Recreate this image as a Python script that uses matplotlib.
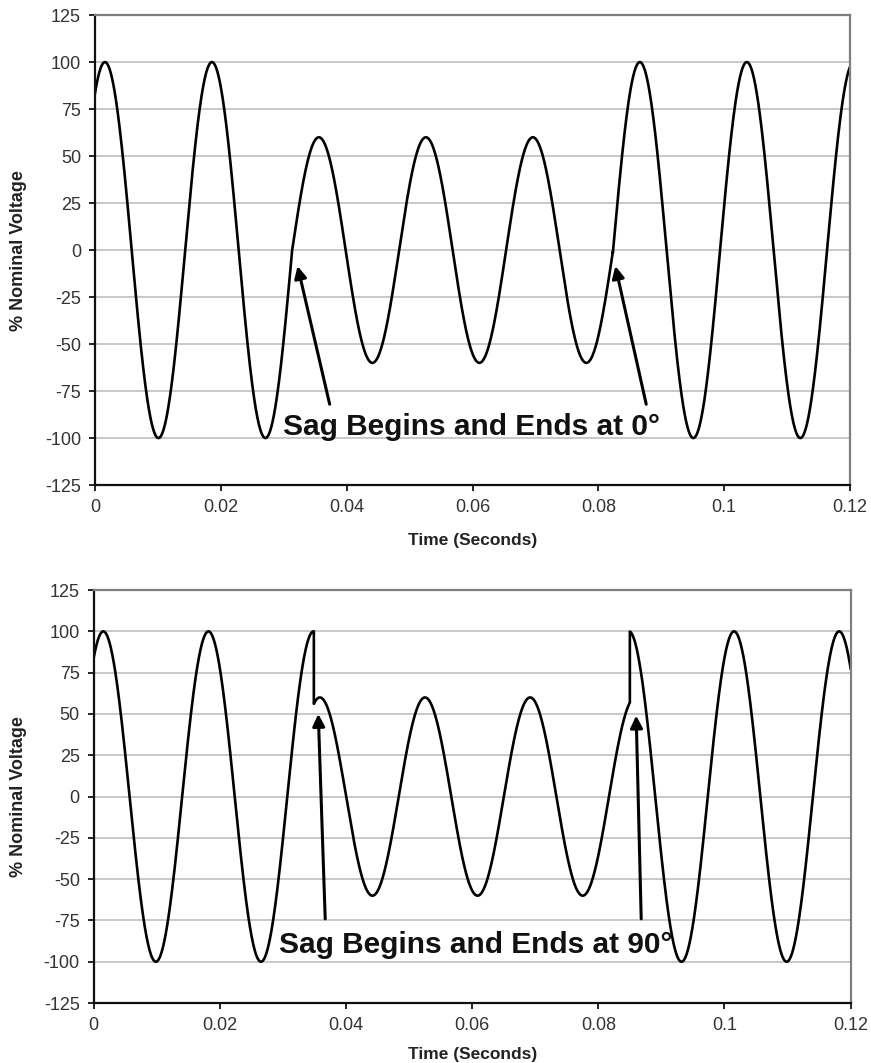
import numpy as np
import matplotlib
matplotlib.use("Agg")
from matplotlib import pyplot as plt

plt.rcParams['font.family'] = ['Liberation Sans', 'DejaVu Sans']
plt.rcParams['axes.unicode_minus'] = False

# axis ticks
time_ticks = [0, 0.02, 0.04, 0.06, 0.08, 0.1, 0.12]
time_labels = ["0", "0.02", "0.04", "0.06", "0.08", "0.1", "0.12"]
volt_ticks = [125, 100, 75, 50, 25, 0, -25, -50, -75, -100, -125]

nominal_pct = 100      # % of nominal voltage outside the sag
sag_pct = 60           # % of nominal voltage during the sag

# sag starting at the 0 degree crossing
zero_period = 0.0170       # seconds per cycle
zero_first_peak = 0.00159  # time of first positive peak
zero_sag_start = 0.0313
zero_sag_end = 0.0823
zero_sag_shift = 0.0       # phase lag of the sagged wave (s)

# sag starting at the 90 degree peak
ninety_period = 0.016667
ninety_first_peak = 0.00152
ninety_sag_start = 0.0349
ninety_sag_end = 0.0850
ninety_sag_shift = 0.0010

# arrow (tip, tail) points and label positions in data units
zero_arrows = [((0.0322, -8.5), (0.0373, -82)), ((0.0827, -8.5), (0.0876, -82))]
zero_label = (0.0299, -98.5, "Sag Begins and Ends at 0\u00b0")
ninety_arrows = [((0.0356, 50), (0.0367, -74)), ((0.0860, 49), (0.0868, -74))]
ninety_label = (0.0293, -95, "Sag Begins and Ends at 90\u00b0")


def sag_wave(period, first_peak, start, end, shift, n=24001):
    t = np.linspace(0, 0.12, n)
    # make the switching instants land exactly on samples
    t = np.sort(np.concatenate([t, [start, start, end, end]]))
    v = nominal_pct * np.cos(2 * np.pi * (t - first_peak) / period)
    v_sag = sag_pct * np.cos(2 * np.pi * (t - first_peak - shift) / period)
    inside = (t > start) & (t < end)
    v = np.where(inside, v_sag, v)
    # duplicated boundary samples carry the jump
    i_s = np.searchsorted(t, start)
    i_e = np.searchsorted(t, end)
    v[i_s + 1] = v_sag[i_s + 1]
    v[i_e] = v_sag[i_e]
    return t, v


def style_axes(ax):
    ax.set_xlim(0, 0.12)
    ax.set_ylim(-125, 125)
    ax.set_xticks(time_ticks)
    ax.set_xticklabels(time_labels)
    ax.set_yticks(volt_ticks)
    ax.tick_params(axis='both', labelsize=13, labelcolor='#333333',
                   length=4, width=1.2, direction='out', pad=6)
    ax.grid(axis='y', color='#c4c4c4', lw=1.3)
    ax.set_axisbelow(True)
    for s in ('left', 'bottom'):
        ax.spines[s].set_color('#111111')
        ax.spines[s].set_linewidth(1.6)
    for s in ('top', 'right'):
        ax.spines[s].set_color('#7f7f7f')
        ax.spines[s].set_linewidth(1.6)
    ax.set_ylabel("% Nominal Voltage", fontsize=13, fontweight='bold', color='#222222')
    ax.set_xlabel("Time (Seconds)", fontsize=12.5, fontweight='bold', color='#222222')


def annotate(ax, arrows, label):
    for tip, tail in arrows:
        ax.annotate('', xy=tip, xytext=tail,
                    arrowprops=dict(arrowstyle='-|>', color='black', lw=2.2,
                                    mutation_scale=18, shrinkA=0, shrinkB=0))
    x, y, txt = label
    ax.text(x, y, txt, fontsize=21.5, fontweight='bold', color='#111111',
            ha='left', va='baseline')


fig = plt.figure(figsize=(8.71, 10.63), dpi=100)
ax1 = fig.add_axes([0.109, 0.5437, 0.867, 0.4421])
ax2 = fig.add_axes([0.1076, 0.0564, 0.869, 0.3885])

t, v = sag_wave(zero_period, zero_first_peak, zero_sag_start, zero_sag_end, zero_sag_shift)
ax1.plot(t, v, color='black', lw=1.9)
style_axes(ax1)
annotate(ax1, zero_arrows, zero_label)
ax1.yaxis.set_label_coords(-0.090, 0.5)
ax1.xaxis.set_label_coords(0.5, -0.102)

t, v = sag_wave(ninety_period, ninety_first_peak, ninety_sag_start, ninety_sag_end, ninety_sag_shift)
ax2.plot(t, v, color='black', lw=1.9)
style_axes(ax2)
annotate(ax2, ninety_arrows, ninety_label)
ax2.yaxis.set_label_coords(-0.088, 0.5)
ax2.xaxis.set_label_coords(0.5, -0.107)

fig.savefig("out.png", dpi=100, facecolor='white')
